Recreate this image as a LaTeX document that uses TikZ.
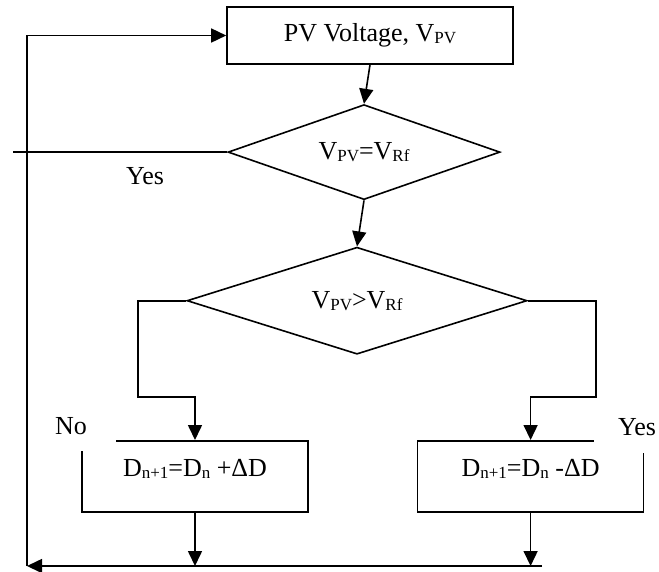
\documentclass[tikz,border=0pt]{standalone}
\usepackage{fontspec}
\setmainfont{Liberation Serif}
\usetikzlibrary{arrows.meta, positioning, shapes.geometric}

\newcommand{\subtxt}[1]{\raisebox{-2pt}{\fontsize{17}{18}\selectfont #1}}

\begin{document}
\begin{tikzpicture}[
  x=1pt, y=1pt,
  node distance=39pt and 108pt,
  process/.style={rectangle, draw=black, line width=1.6pt,
                  minimum width=286pt, minimum height=57pt,
                  font=\fontsize{26}{30}\selectfont, inner sep=0pt},
  update/.style={rectangle, draw=black, line width=1.6pt,
                 minimum width=226pt, minimum height=71pt, text depth=17pt,
                 font=\fontsize{26}{30}\selectfont, inner sep=0pt},
  decision/.style={diamond, draw=black, line width=1.6pt,
                   font=\fontsize{26}{30}\selectfont, inner sep=0pt},
  lbl/.style={font=\fontsize{26}{30}\selectfont, inner sep=0pt},
  arr/.style={-{Triangle[length=15pt, width=14pt]}, line width=1.6pt},
  line/.style={line width=1.6pt},
]
\useasboundingbox (0,0) rectangle (659,-571);

\node[process] (pv) at (370,-35.5) {PV Voltage, V\subtxt{PV}};
\node[decision, below=39pt of pv, xshift=-6pt, shape aspect=2.86,
      minimum width=272pt, minimum height=95pt] (vequal) {V\subtxt{PV}=V\subtxt{Rf}};
\node[decision, below=46pt of vequal, xshift=-7pt, shape aspect=3.18,
      minimum width=340pt, minimum height=107pt] (vgreater) {V\subtxt{PV}>V\subtxt{Rf}};
\node[update, below=85pt of vgreater, xshift=-162pt] (inc) {D\subtxt{n+1}=D\subtxt{n} +ΔD};
\node[update, right=of inc] (dec) {D\subtxt{n+1}=D\subtxt{n} -ΔD};

\coordinate (yesend) at (13,-152);
\coordinate (corner) at (27,-566);
\coordinate (join) at (542,-566);

\draw[arr] (pv.south) -- (vequal.north);
\draw[arr] (vequal.south) -- (vgreater.north);
\draw[line] (vequal.west) -- (vequal.west -| yesend);
\node[lbl] (yesleft) at (145,-176) {Yes};
\draw[arr] (vgreater.west) -- ++(-48,0) -- ++(0,-96) -| (inc.north);
\draw[arr] (vgreater.east) -- ++(68,0) -- ++(0,-96) -| (dec.north);

\node[lbl, fill=white, inner xsep=29pt, inner ysep=16pt] (no) at (71,-426) {No};
\node[lbl, fill=white, inner xsep=24pt, inner ysep=17pt] (yesright) at (637,-427) {Yes};

\draw[arr] (inc.south) -- (inc.south |- corner);
\draw[arr] (dec.south) -- (dec.south |- corner);
\draw[arr] (join) -- (corner);
\draw[arr] (corner) |- (pv.west);

\end{tikzpicture}
\end{document}
